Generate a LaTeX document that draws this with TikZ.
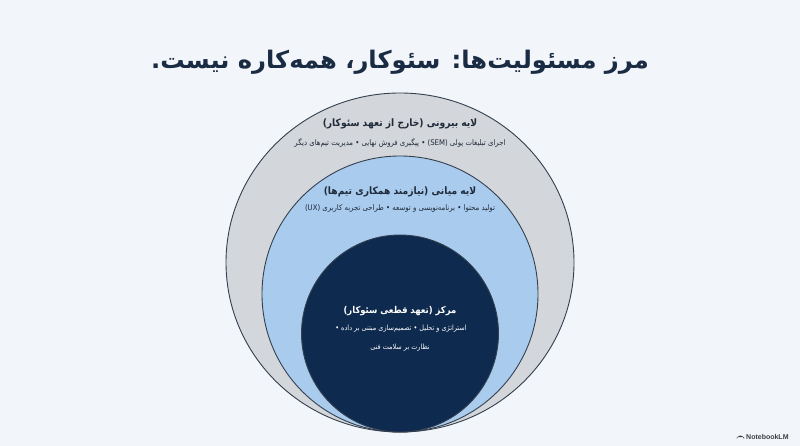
\documentclass[tikz,border=0pt]{standalone}
\usepackage{fontspec}
\setmainfont{DejaVu Sans}
\newfontfamily\fa[Script=Arabic]{DejaVu Sans}
\newfontfamily\fac[Script=Arabic]{DejaVu Sans Condensed}
\newfontfamily\lat{Liberation Sans}
\TeXXeTstate=1
\definecolor{bgc}{HTML}{F2F5F9}
\definecolor{outerfill}{HTML}{D3D6DA}
\definecolor{midfill}{HTML}{A9CBEE}
\definecolor{corefill}{HTML}{0E2A4F}
\definecolor{edgec}{HTML}{34404F}
\definecolor{titlec}{HTML}{1A2B44}
\definecolor{textc}{HTML}{1F2A3A}
\definecolor{logoc}{HTML}{3C4043}
\tikzset{
  layer/.style={draw=edgec, line width=0.9pt},
  head/.style={inner sep=0pt, font=\fac\bfseries\fontsize{10.2}{12}\selectfont, text=textc},
  sub/.style={inner sep=0pt, font=\fac\fontsize{7.7}{9}\selectfont, text=textc},
  corehead/.style={inner sep=0pt, font=\fac\bfseries\fontsize{9.4}{11}\selectfont, text=white},
  coresub/.style={inner sep=0pt, font=\fac\fontsize{7.2}{9}\selectfont, text=white},
}
\begin{document}
\begin{tikzpicture}[x=1pt,y=-1pt]
\useasboundingbox (0,0) rectangle (800,446);
\fill[bgc] (0,0) rectangle (800,446);
% title
\node[inner sep=0pt, font=\fa\bfseries\fontsize{24.2}{29}\selectfont, text=titlec] (title) at (400,62)
  {\beginR مرز مسئولیت‌ها: سئوکار، همه‌کاره نیست.\endR};
% layers
\draw[layer, fill=outerfill] (400,262.5) ellipse [x radius=174, y radius=169.5];
\node[coordinate] (outer) at (400,262.5) {};
\draw[layer, fill=midfill] (400,294) circle [radius=138];
\node[coordinate] (middle) at (400,294) {};
\draw[layer, fill=corefill] (400,333.5) circle [radius=98.5];
\node[coordinate] (core) at (400,333.5) {};
% outer texts
\node[head] (oh) at (400,124) {\beginR لایه بیرونی (خارج از تعهد سئوکار)\endR};
\node[sub] (os) at (400,143) {\beginR اجرای تبلیغات پولی (\beginL SEM\endL) • پیگیری فروش نهایی • مدیریت تیم‌های دیگر\endR};
% middle texts
\node[head] (mh) at (400,192) {\beginR لایه میانی (نیازمند همکاری تیم‌ها)\endR};
\node[sub] (ms) at (400,208.5) {\beginR تولید محتوا • برنامه‌نویسی و توسعه • طراحی تجربه کاربری (\beginL UX\endL)\endR};
% core texts
\node[corehead] (ch) at (400,311) {\beginR مرکز (تعهد قطعی سئوکار)\endR};
\node[coresub] (cs1) at (401,329) {\beginR استراتژی و تحلیل • تصمیم‌سازی مبتنی بر داده •\endR};
\node[coresub] (cs2) at (400,347.5) {\beginR نظارت بر سلامت فنی\endR};
% logo
\node[inner sep=0pt, anchor=west, font=\lat\bfseries\fontsize{7}{8}\selectfont, text=logoc] (logo) at (746,436.5) {NotebookLM};
\fill[logoc] ([xshift=-2pt,yshift=-2.6pt]logo.west) arc[start angle=0, end angle=180, radius=3.6pt] -- ++(0,2pt) -- ++(7.2pt,0) -- cycle;
\end{tikzpicture}
\end{document}
